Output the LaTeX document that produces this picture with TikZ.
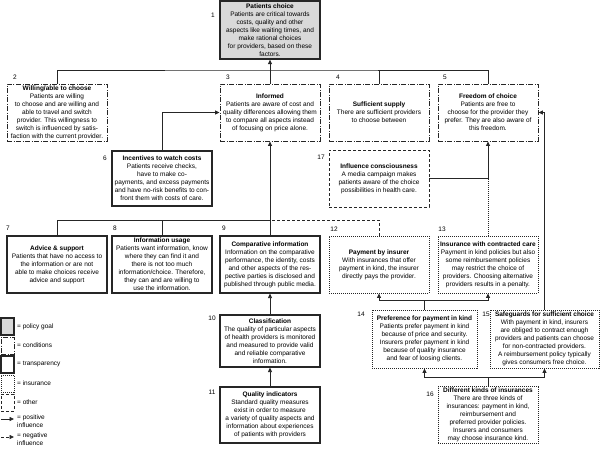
\documentclass[tikz,border=0pt]{standalone}
\usepackage{fontspec}
\setmainfont{Liberation Sans}
\usetikzlibrary{arrows.meta}
\begin{document}
\begin{tikzpicture}[x=1pt,y=-1pt,
  every node/.style={font=\fontsize{6.5}{8.0}\selectfont},
  basebox/.style={rectangle, draw=black!85, align=center, inner xsep=1pt, inner ysep=0pt, minimum width=100pt},
  goal/.style={basebox, fill=black!15, line width=1.3pt},
  cond/.style={basebox, line width=0.9pt, dash pattern=on 5pt off 1.5pt on 1pt off 1.5pt},
  transp/.style={basebox, line width=1.1pt},
  insur/.style={basebox, line width=0.9pt, dash pattern=on 1pt off 1pt},
  other/.style={basebox, line width=0.9pt, dash pattern=on 3pt off 2pt},
  num/.style={font=\fontsize{6.5}{7}\selectfont, inner sep=0pt},
  legtxt/.style={font=\fontsize{6.5}{7.6}\selectfont, inner sep=0pt, align=left},
  conn/.style={line width=0.8pt, draw=black!85},
  arr/.style={conn, -{Triangle[length=4.5pt,width=4pt]}},
  neg/.style={conn, dash pattern=on 3pt off 2pt},
  negdot/.style={conn, dash pattern=on 1pt off 1pt},
]
\useasboundingbox (0,0) rectangle (600,448);

% ---- boxes
\node[goal, minimum height=58pt] (n1) at (270,30) {\textbf{Patients choice}\\Patients are critical towards\\costs, quality and other\\aspects like waiting times, and\\make rational choices\\for providers, based on these\\factors.};
\node[cond, minimum height=57pt] (n2) at (57,112.5) {\textbf{Willing/able to choose}\\Patients are willing\\to choose and are willing and\\able to travel and switch\\provider. This willingness to\\switch is influenced by satis-\\faction with the current provider.};
\node[cond, minimum height=57pt] (n3) at (270,112.5) {\textbf{Informed}\\Patients are aware of cost and\\quality differences allowing them\\to compare all aspects instead\\of focusing on price alone.};
\node[cond, minimum height=57pt] (n4) at (379,112.5) {\textbf{Sufficient supply}\\There are sufficient providers\\to choose between};
\node[cond, minimum height=57pt] (n5) at (488,112.5) {\textbf{Freedom of choice}\\Patients are free to\\choose for the provider they\\prefer. They are also aware of\\this freedom.};
\node[transp, minimum height=55pt] (n6) at (162,178.5) {\textbf{Incentives to watch costs}\\Patients receive checks,\\have to make co-\\payments, and excess payments\\and have no-risk benefits to con-\\front them with costs of care.};
\node[other, minimum height=57pt] (n17) at (379,178.5) {\textbf{Influence consciousness}\\A media campaign makes\\patients aware of the choice\\possibilities in health care.};
\node[transp, minimum height=57pt] (n7) at (57,264.5) {\textbf{Advice \& support}\\Patients that have no access to\\the information or are not\\able to make choices receive\\advice and support};
\node[transp, minimum height=57pt] (n8) at (162,264.5) {\textbf{Information usage}\\Patients want information, know\\where they can find it and\\there is not too much\\information/choice. Therefore,\\they can and are willing to\\use the information.};
\node[transp, minimum height=57pt] (n9) at (270,264.5) {\textbf{Comparative information}\\Information on the comparative\\performance, the identity, costs\\and other aspects of the res-\\pective parties is disclosed and\\published through public media.};
\node[insur, minimum height=57pt] (n12) at (379,264.5) {\textbf{Payment by insurer}\\With insurances that offer\\payment in kind, the insurer\\directly pays the provider.};
\node[insur, minimum height=57pt] (n13) at (488,264.5) {\textbf{Insurance with contracted care}\\Payment in kind policies but also\\some reimbursement policies\\may restrict the choice of\\providers. Choosing alternative\\providers results in a penalty.};
\node[transp, minimum height=52pt] (n10) at (270,341) {\textbf{Classification}\\The quality of particular aspects\\of health providers is monitored\\and measured to provide valid\\and reliable comparative\\information.};
\node[transp, minimum height=56pt] (n11) at (270,415) {\textbf{Quality indicators}\\Standard quality measures\\exist in order to measure\\a variety of quality aspects and\\information about experiences\\of patients with providers};
\node[insur, minimum width=105pt, minimum height=58pt] (n14) at (424.5,339) {\textbf{Preference for payment in kind}\\Patients prefer payment in kind\\because of price and security.\\Insurers prefer payment in kind\\because of quality insurance\\and fear of loosing clients.};
\node[insur, minimum width=109pt, minimum height=58pt] (n15) at (544.5,339) {\textbf{Safeguards for sufficient choice}\\With payment in kind, insurers\\are obliged to contract enough\\providers and patients can choose\\for non-contracted providers.\\A reimbursement policy typically\\gives consumers free choice.};
\node[insur, minimum height=57pt] (n16) at (488,415) {\textbf{Different kinds of insurances}\\There are three kinds of\\insurances: payment in kind,\\reimbursement and\\preferred provider policies.\\Insurers and consumers\\may choose insurance kind.};

% ---- numbers
\node[num] (l1) at (213,15) {1};
\node[num] (l2) at (15,77) {2};
\node[num] (l3) at (228,77) {3};
\node[num] (l4) at (338,77) {4};
\node[num] (l5) at (445,77) {5};
\node[num] (l6) at (105,158) {6};
\node[num] (l17) at (321,157) {17};
\node[num] (l7) at (8,228) {7};
\node[num] (l8) at (115,228) {8};
\node[num] (l9) at (224,228) {9};
\node[num] (l12) at (334,229) {12};
\node[num] (l13) at (442,229) {13};
\node[num] (l10) at (212,318) {10};
\node[num] (l11) at (212,392) {11};
\node[num] (l14) at (361,314) {14};
\node[num] (l15) at (486,314) {15};
\node[num] (l16) at (430,394) {16};

% ---- junctions
\coordinate (j1) at (270,70);
\coordinate (j2) at (270,220);
\coordinate (j3) at (424.5,300);
\coordinate (j4) at (488,377);

% ---- connectors
\draw[conn] (n2.north) |- (j1) -| (n5.north);
\draw[conn] (n4.north) -- (n4.north |- j1);
\draw[arr] (n3.north) -- (n1.south);
\draw[arr] (n6.north) |- (n3.west);
\draw[arr] (n17.east) -| (n5.south);
\draw[negdot] (n13.north) -- (n13.north |- n17.east);
\draw[arr] (n15.north) |- (n5.east);
\draw[conn] (n7.north) |- (j2);
\draw[conn] (n8.north) -- (n8.north |- j2);
\draw[arr] (n9.north) -- (n3.south);
\draw[neg] (n12.north) |- (j2);
\draw[arr] (n10.north) -- (n9.south);
\draw[arr] (n11.north) -- (n10.south);
\draw[conn] (n14.north) -- (j3);
\draw[arr] (j3) -| (n12.south);
\draw[arr] (j3) -| (n13.south);
\draw[conn] (n16.north) -- (j4);
\draw[arr] (j4) -| (n14.south);
\draw[arr] (j4) -| (n15.south);

% ---- legend
\node[goal, minimum width=13pt, minimum height=17pt] (g1) at (7.5,326.5) {};
\node[cond, minimum width=13pt, minimum height=17pt] (g2) at (7.5,345.5) {};
\node[transp, minimum width=13pt, minimum height=17pt] (g3) at (7.5,364.5) {};
\node[insur, minimum width=13pt, minimum height=17pt] (g4) at (7.5,383.5) {};
\node[other, minimum width=13pt, minimum height=17pt] (g5) at (7.5,402.5) {};
\node[legtxt, anchor=west] (t1) at (17,326.5) {= policy goal};
\node[legtxt, anchor=west] (t2) at (17,345.5) {= conditions};
\node[legtxt, anchor=west] (t3) at (17,364.5) {= transparency};
\node[legtxt, anchor=west] (t4) at (17,383.5) {= insurance};
\node[legtxt, anchor=west] (t5) at (17,402.5) {= other};
\coordinate (pa) at (1,419);
\coordinate (pb) at (14,419);
\draw[arr] (pa) -- (pb);
\node[legtxt, anchor=north west] (t6) at (17,415) {= positive\\influence};
\coordinate (na) at (1,437);
\coordinate (nb) at (14,437);
\draw[arr, dash pattern=on 3pt off 2pt] (na) -- (nb);
\node[legtxt, anchor=north west] (t7) at (17,433) {= negative\\influence};
\end{tikzpicture}
\end{document}
